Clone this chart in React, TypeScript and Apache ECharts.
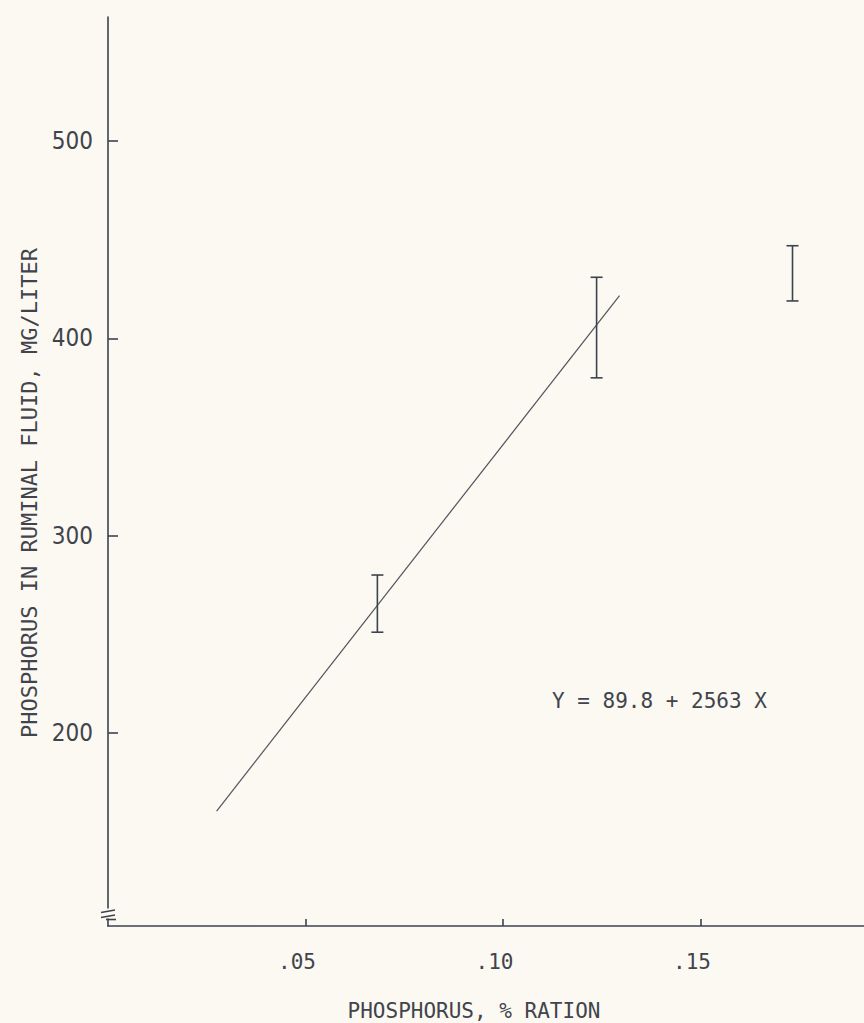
import React, { useEffect, useRef } from 'react';
import * as echarts from 'echarts';

// ---- data ----
const X_TICKS = [0.05, 0.1, 0.15];
const Y_TICKS = [200, 300, 400, 500];
const FIT_X = [0.0275, 0.1295];
const FIT_Y = [160.3, 421.7];
const BAR_X = [0.0682, 0.1237, 0.1733];
const BAR_LOW = [251, 380, 419];
const BAR_HIGH = [280, 431, 447];
const EQUATION = 'Y = 89.8 + 2563 X';
const X_TITLE = 'PHOSPHORUS, % RATION';
const Y_TITLE = 'PHOSPHORUS IN RUMINAL FLUID, MG/LITER';

const BG = '#fbf9f1';
const INK = '#3d4250';
const TEXT = '#41444c';
const MONO = '"DejaVu Sans Mono", "Liberation Mono", monospace';
const NARROW = '"Liberation Sans Narrow", "DejaVu Sans Condensed", sans-serif';

export default function App() {
  const ref = useRef<HTMLDivElement>(null);
  useEffect(() => {
    if (!ref.current) return;
    const chart = echarts.init(ref.current, undefined, { renderer: 'svg' });
    const fitData = FIT_X.map((x, i) => [x, FIT_Y[i]]);
    const barData = BAR_X.map((x, i) => [x, BAR_LOW[i], BAR_HIGH[i]]);
    chart.setOption({
      animation: false,
      backgroundColor: BG,
      grid: { left: 108, right: 0, top: 17, bottom: 97, containLabel: false },
      xAxis: {
        type: 'value',
        min: 0,
        max: 0.1914,
        splitLine: { show: false },
        axisLine: { show: true, lineStyle: { color: INK, width: 1.6 } },
        axisTick: { show: true, inside: true, length: 7, customValues: X_TICKS, lineStyle: { color: INK, width: 1.6 } },
        axisLabel: {
          show: true,
          customValues: X_TICKS,
          formatter: (v: number) => v.toFixed(2).replace(/^0/, ''),
          color: TEXT,
          fontFamily: MONO,
          fontSize: 21,
          margin: 25,
          padding: [0, 17, 0, 0],
        },
      },
      yAxis: {
        type: 'value',
        min: 102,
        max: 563,
        splitLine: { show: false },
        axisLine: { show: true, lineStyle: { color: INK, width: 1.6 } },
        axisTick: { show: true, inside: true, length: 10, customValues: Y_TICKS, lineStyle: { color: INK, width: 1.6 } },
        axisLabel: {
          show: true,
          customValues: Y_TICKS,
          formatter: (v: number) => String(v),
          color: TEXT,
          fontFamily: NARROW,
          fontSize: 24,
          margin: 15,
        },
      },
      series: [
        {
          type: 'line',
          data: fitData,
          symbol: 'none',
          lineStyle: { color: '#50545e', width: 1.2 },
          z: 3,
        },
        {
          type: 'custom',
          data: barData,
          encode: { x: 0, y: [1, 2] },
          z: 4,
          renderItem: (params: any, api: any) => {
            const x = api.value(0);
            const top = api.coord([x, api.value(2)]);
            const bot = api.coord([x, api.value(1)]);
            const w = 6;
            const style = { stroke: INK, lineWidth: 1.6 };
            return {
              type: 'group',
              children: [
                { type: 'line', shape: { x1: top[0], y1: top[1], x2: bot[0], y2: bot[1] }, style },
                { type: 'line', shape: { x1: top[0] - w, y1: top[1], x2: top[0] + w, y2: top[1] }, style },
                { type: 'line', shape: { x1: bot[0] - w, y1: bot[1], x2: bot[0] + w, y2: bot[1] }, style },
              ],
            };
          },
        },
      ],
      graphic: [
        // axis break
        { type: 'rect', shape: { x: 102, y: 908.5, width: 12, height: 10 }, style: { fill: BG }, z: 100 },
        { type: 'line', shape: { x1: 101, y1: 912.5, x2: 115, y2: 910 }, style: { stroke: INK, lineWidth: 1.6 }, z: 101 },
        { type: 'line', shape: { x1: 101, y1: 917.5, x2: 115, y2: 915 }, style: { stroke: INK, lineWidth: 1.6 }, z: 101 },
        { type: 'line', shape: { x1: 106, y1: 919.5, x2: 116, y2: 919.5 }, style: { stroke: INK, lineWidth: 1.6 }, z: 101 },
        // titles
        {
          type: 'text',
          x: 29,
          y: 493,
          rotation: Math.PI / 2,
          style: { text: Y_TITLE, fill: TEXT, font: `22px ${MONO}`, align: 'center', verticalAlign: 'middle' },
          z: 101,
        },
        {
          type: 'text',
          x: 474,
          y: 1011,
          style: { text: X_TITLE, fill: TEXT, font: `21px ${MONO}`, align: 'center', verticalAlign: 'middle' },
          z: 101,
        },
        {
          type: 'text',
          x: 552,
          y: 701,
          style: { text: EQUATION, fill: TEXT, font: `21px ${MONO}`, align: 'left', verticalAlign: 'middle' },
          z: 101,
        },
      ],
    });
    return () => chart.dispose();
  }, []);
  return (
    <div
      ref={ref}
      style={{ position: 'fixed', left: 0, top: 0, width: 864, height: 1023, background: BG }}
    />
  );
}
